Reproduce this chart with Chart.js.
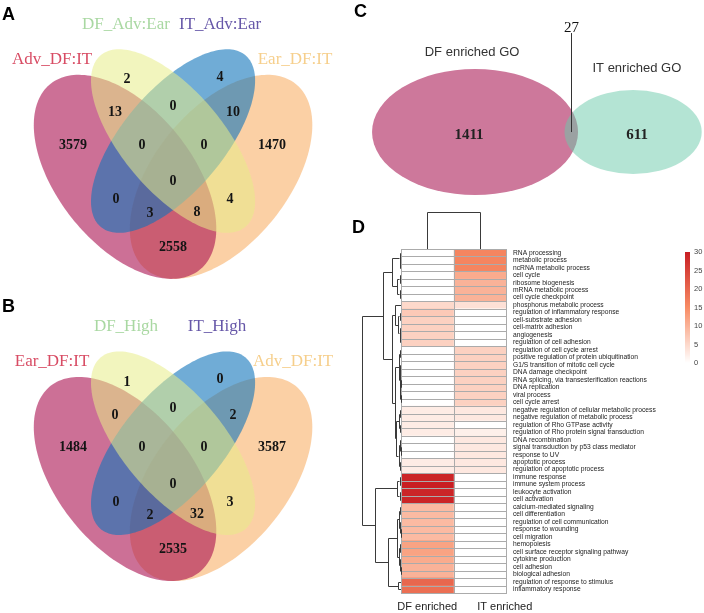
<!DOCTYPE html>
<html>
<head>
<meta charset="utf-8">
<script src="https://cdn.jsdelivr.net/npm/chart.js@4.4.0/dist/chart.umd.min.js"></script>
<style>
  body { margin: 0; background: #fff; width: 704px; height: 613px; position: relative; overflow: hidden; }
  canvas { position: absolute; display: block; }
  .tag { position: absolute; font: bold 18px/18px "Liberation Sans", Arial, sans-serif; color: #000; }
</style>
</head>
<body>
<canvas id="vennA" width="352" height="300" style="left:0;top:0"></canvas>
<canvas id="vennB" width="352" height="313" style="left:0;top:300px"></canvas>
<canvas id="vennC" width="352" height="200" style="left:352px;top:0"></canvas>
<canvas id="heat" width="352" height="413" style="left:352px;top:200px"></canvas>
<div class="tag" style="left:2px;top:5px">A</div>
<div class="tag" style="left:2px;top:297px">B</div>
<div class="tag" style="left:354px;top:2px">C</div>
<div class="tag" style="left:352px;top:218px">D</div>
<script>
// Venn A / B: set names and region counts
const setsA = ['Adv_DF:IT', 'DF_Adv:Ear', 'IT_Adv:Ear', 'Ear_DF:IT'];
const countsA = [2, 4, 13, 0, 10, 3579, 0, 0, 1470, 0, 0, 3, 8, 4, 2558];
const setsB = ['Ear_DF:IT', 'DF_High', 'IT_High', 'Adv_DF:IT'];
const countsB = [1, 0, 0, 0, 2, 1484, 0, 0, 3587, 0, 0, 2, 32, 3, 2535];

// Venn C: enriched GO terms
const goSets = ['DF enriched GO', 'IT enriched GO'];
const goOnly = [1411, 611];
const goShared = 27;

// heatmap D
const goTerms = [
  'RNA processing', 'metabolic process', 'ncRNA metabolic process', 'cell cycle',
  'ribosome biogenesis', 'mRNA metabolic process', 'cell cycle checkpoint',
  'phosphorus metabolic process', 'regulation of inflammatory response',
  'cell-substrate adhesion', 'cell-matrix adhesion', 'angiogenesis',
  'regulation of cell adhesion', 'regulation of cell cycle arrest',
  'positive regulation of protein ubiquitination', 'G1/S transition of mitotic cell cycle',
  'DNA damage checkpoint', 'RNA splicing, via transesterification reactions',
  'DNA replication', 'viral process', 'cell cycle arrest',
  'negative regulation of cellular metabolic process', 'negative regulation of metabolic process',
  'regulation of Rho GTPase activity', 'regulation of Rho protein signal transduction',
  'DNA recombination', 'signal transduction by p53 class mediator', 'response to UV',
  'apoptotic process', 'regulation of apoptotic process', 'immune response',
  'immune system process', 'leukocyte activation', 'cell activation',
  'calcium-mediated signaling', 'cell differentiation', 'regulation of cell communication',
  'response to wounding', 'cell migration', 'hemopoiesis',
  'cell surface receptor signaling pathway', 'cytokine production', 'cell adhesion',
  'biological adhesion', 'regulation of response to stimulus', 'inflammatory response'
];
const heatColumns = ['DF enriched', 'IT enriched'];
const dfScore = [0, 0, 0, 0, 0, 0, 0, 5, 7, 6, 6, 6, 6, 0, 0, 0, 0, 0, 0, 0, 0,
  2.5, 2.5, 2.5, 2.5, 0, 0, 0, 2.5, 2.5, 29, 30, 29, 29, 9, 9, 9, 9, 9,
  12, 12, 11, 10, 10, 20, 19];
const itScore = [16, 16, 16, 11, 10, 10, 10, 4, 0, 0, 0, 0, 0, 6, 6, 6, 6, 6, 6, 6, 6,
  3, 3, 0, 2, 3, 3, 3, 3, 3, 0, 0, 0, 0, 0, 0, 0, 0, 0, 0, 0, 0, 0, 0, 0, 0];
const colorbarTicks = [0, 5, 10, 15, 20, 25, 30];

// clustering trees: [height, left, right], leaves are row / column indexes
const rowTree = [39,
  [18,
    [9, [1.5, 0, [0.8, 1, 2]], [4, [1.5, 3, 4], [1.5, 5, 6]]],
    [9,
      [6, 7, [3, [1.5, 8, 9], [1.5, 10, [0.8, 11, 12]]]],
      [6,
        [2, [1, 13, 14], [1.2, [0.6, 15, 16], [0.6, [0.3, 17, 18], [0.3, 19, 20]]]],
        [5, [2, [1, 21, 22], [1, 23, 24]], [2.5, [1, 25, [0.5, 26, 27]], [1, 28, 29]]]]]],
  [26,
    [4, [1.5, 30, 31], [1.5, 32, 33]],
    [13,
      [4, [2, [1, 34, 35], [1, 36, [0.5, 37, 38]]], [2, [1, 39, 40], [1, 41, [0.5, 42, 43]]]],
      [3, 44, 45]]]];
const colTree = [37, 0, 1];

// ---- layout / style ----
// four-ellipse shapes in unit space: cx, cy, a, b, rotation(deg)
const quadShapes = [
  [0.35, 0.47, 0.35, 0.20, 135],
  [0.50, 0.57, 0.33, 0.15, 135],
  [0.50, 0.57, 0.33, 0.15, 45],
  [0.65, 0.47, 0.35, 0.20, 45]
];
const quadFills = ['rgba(170,17,80,0.6)', 'rgba(231,237,137,0.55)', 'rgba(17,117,187,0.6)', 'rgba(247,161,75,0.5)'];
const quadOrder = [3, 0, 2, 1];
const setInk = ['#d84c64', '#a9d8a2', '#6657a8', '#f6cf8c'];
const regionSpots = [
  [0.356, 0.741], [0.647, 0.747], [0.319, 0.649], [0.5, 0.668], [0.6875, 0.649],
  [0.1875, 0.559], [0.403, 0.559], [0.597, 0.559], [0.809, 0.559], [0.5, 0.456],
  [0.322, 0.406], [0.428, 0.369], [0.575, 0.372], [0.678, 0.406], [0.5, 0.274]
];
const titleSpotsA = [[0.122, 0.797], [0.353, 0.895], [0.647, 0.895], [0.881, 0.797]];
const titleSpotsB = [[0.122, 0.797], [0.353, 0.895], [0.6375, 0.895], [0.875, 0.797]];

function ellipsePath(ctx, sx, sy, e) {
  const [cx, cy, a, b, rot] = e;
  const r = rot * Math.PI / 180;
  ctx.beginPath();
  for (let k = 0; k <= 180; k++) {
    const t = k / 180 * 2 * Math.PI;
    const u = a * Math.cos(t), v = b * Math.sin(t);
    const px = sx.getPixelForValue(cx + u * Math.cos(r) - v * Math.sin(r));
    const py = sy.getPixelForValue(cy + u * Math.sin(r) + v * Math.cos(r));
    if (k === 0) ctx.moveTo(px, py); else ctx.lineTo(px, py);
  }
  ctx.closePath();
}

function vennPlugin(sets, counts, titles) {
  return {
    id: 'quadVenn',
    beforeDatasetsDraw(chart) {
      const { ctx, scales: { x, y } } = chart;
      ctx.save();
      quadOrder.forEach(i => {
        ellipsePath(ctx, x, y, quadShapes[i]);
        ctx.fillStyle = quadFills[i];
        ctx.fill();
      });
      ctx.restore();
    },
    afterDatasetsDraw(chart) {
      const { ctx, scales: { x, y } } = chart;
      const pts = chart.getDatasetMeta(0).data;
      ctx.save();
      ctx.textAlign = 'center';
      ctx.textBaseline = 'middle';
      ctx.font = 'bold 14px "Liberation Serif", serif';
      ctx.fillStyle = '#141414';
      pts.forEach((p, i) => ctx.fillText(String(counts[i]), p.x, p.y));
      ctx.font = '17px "Liberation Serif", serif';
      sets.forEach((s, i) => {
        ctx.fillStyle = setInk[i];
        ctx.fillText(s, x.getPixelForValue(titles[i][0]), y.getPixelForValue(titles[i][1]));
      });
      ctx.restore();
    }
  };
}

function makeVenn(id, sets, counts, titles, yMin, yMax) {
  return new Chart(document.getElementById(id), {
    type: 'scatter',
    data: { datasets: [{ data: regionSpots.map(p => ({ x: p[0], y: p[1] })), pointRadius: 0 }] },
    options: {
      responsive: false, animation: false, events: [],
      layout: { padding: 0 },
      plugins: { legend: { display: false }, tooltip: { enabled: false } },
      scales: {
        x: { type: 'linear', display: false, min: -0.0406, max: 1.059 },
        y: { type: 'linear', display: false, min: yMin, max: yMax }
      }
    },
    plugins: [vennPlugin(sets, counts, titles)]
  });
}

makeVenn('vennA', setsA, countsA, titleSpotsA, 0.126, 0.964);
makeVenn('vennB', setsB, countsB, titleSpotsB, 0.0957, 0.97);

// ---- panel C: two area-proportional sets ----
const goRadius = goOnly.map(v => Math.sqrt(v + goShared));
const goCentres = [[45.3, 40.9], [103.5, 40.9]];
const goFills = ['rgb(205,120,155)', 'rgba(105,201,169,0.5)'];
const goNameSpots = [[44.2, 89.1], [104.9, 79.5]];

new Chart(document.getElementById('vennC'), {
  type: 'scatter',
  data: { datasets: [{ data: goCentres.map(c => ({ x: c[0], y: c[1] })), pointRadius: 0 }] },
  options: {
    responsive: false, animation: false, events: [],
    layout: { padding: 0 },
    plugins: { legend: { display: false }, tooltip: { enabled: false } },
    scales: {
      x: { type: 'linear', display: false, min: 0, max: 129.6 },
      y: { type: 'linear', display: false, min: 0, max: 120.4 }
    }
  },
  plugins: [{
    id: 'twoVenn',
    beforeDatasetsDraw(chart) {
      const { ctx, scales: { x, y } } = chart;
      ctx.save();
      goCentres.forEach((c, i) => {
        const px = x.getPixelForValue(c[0]), py = y.getPixelForValue(c[1]);
        const rx = x.getPixelForValue(c[0] + goRadius[i]) - px;
        const ry = py - y.getPixelForValue(c[1] + goRadius[i]);
        ctx.beginPath();
        ctx.ellipse(px, py, rx, ry, 0, 0, Math.PI * 2);
        ctx.fillStyle = goFills[i];
        ctx.fill();
      });
      ctx.restore();
    },
    afterDatasetsDraw(chart) {
      const { ctx, scales: { x, y } } = chart;
      const pts = chart.getDatasetMeta(0).data;
      ctx.save();
      ctx.textAlign = 'center';
      ctx.textBaseline = 'middle';
      ctx.font = 'bold 15px "Liberation Serif", serif';
      ctx.fillStyle = '#222';
      pts.forEach((p, i) => ctx.fillText(String(goOnly[i]), p.x - (i ? -4 : 6), p.y + 3));
      ctx.font = '13px "Liberation Sans", Arial, sans-serif';
      ctx.fillStyle = '#333';
      goSets.forEach((s, i) => ctx.fillText(s, x.getPixelForValue(goNameSpots[i][0]), y.getPixelForValue(goNameSpots[i][1])));
      // shared count with pointer into the lens
      const lensX = (goCentres[0][0] + goRadius[0] + goCentres[1][0] - goRadius[1]) / 2;
      const lx = Math.round(x.getPixelForValue(lensX)) + 0.5;
      ctx.strokeStyle = '#333';
      ctx.lineWidth = 1;
      ctx.beginPath();
      ctx.moveTo(lx, y.getPixelForValue(goCentres[0][1]));
      ctx.lineTo(lx, y.getPixelForValue(100.5));
      ctx.stroke();
      ctx.font = '15px "Liberation Serif", serif';
      ctx.fillStyle = '#111';
      ctx.fillText(String(goShared), lx, y.getPixelForValue(103.5));
      ctx.restore();
    }
  }]
});

// ---- panel D: heatmap ----
const rampStops = [[0, [255, 255, 255]], [15, [248, 140, 100]], [30, [200, 30, 35]]];
function heatColor(v) {
  for (let i = 1; i < rampStops.length; i++) {
    const [v1, c1] = rampStops[i];
    const [v0, c0] = rampStops[i - 1];
    if (v <= v1 || i === rampStops.length - 1) {
      const t = Math.max(0, Math.min(1, (v - v0) / (v1 - v0)));
      const c = c0.map((k, j) => Math.round(k + (c1[j] - k) * t));
      return `rgb(${c[0]},${c[1]},${c[2]})`;
    }
  }
}

function drawTree(ctx, node, toX, toY) {
  // returns [x, y] of node
  if (typeof node === 'number') return [toX(0), toY(node)];
  const [h, l, r] = node;
  const a = drawTree(ctx, l, toX, toY);
  const b = drawTree(ctx, r, toX, toY);
  return [toX(h), (a[1] + b[1]) / 2, a, b];
}

function strokeTree(ctx, node, toX, toY, vertical) {
  if (typeof node === 'number') return vertical ? [toY(node), toX(0)] : [toX(0), toY(node)];
  const [h, l, r] = node;
  const a = strokeTree(ctx, l, toX, toY, vertical);
  const b = strokeTree(ctx, r, toX, toY, vertical);
  const d = toX(h);
  const crisp = v => Math.round(v) + 0.5;
  ctx.beginPath();
  if (vertical) {
    // column tree: a/b are [xpos, depth]
    ctx.moveTo(crisp(a[0]), a[1]);
    ctx.lineTo(crisp(a[0]), crisp(d));
    ctx.lineTo(crisp(b[0]), crisp(d));
    ctx.lineTo(crisp(b[0]), b[1]);
    ctx.stroke();
    return [(a[0] + b[0]) / 2, d];
  }
  ctx.moveTo(a[0], crisp(a[1]));
  ctx.lineTo(crisp(d), crisp(a[1]));
  ctx.lineTo(crisp(d), crisp(b[1]));
  ctx.lineTo(b[0], crisp(b[1]));
  ctx.stroke();
  return [d, (a[1] + b[1]) / 2];
}

new Chart(document.getElementById('heat'), {
  type: 'bar',
  data: {
    labels: goTerms,
    datasets: [
      { label: heatColumns[0], data: goTerms.map(() => [0, 1]), backgroundColor: dfScore.map(heatColor) },
      { label: heatColumns[1], data: goTerms.map(() => [1, 2]), backgroundColor: itScore.map(heatColor) }
    ]
  },
  options: {
    responsive: false, animation: false, events: [],
    indexAxis: 'y',
    layout: { padding: { left: 49, top: 49, bottom: 20, right: 0 } },
    datasets: { bar: { grouped: false, barPercentage: 1, categoryPercentage: 1, borderWidth: 0 } },
    plugins: { legend: { display: false }, tooltip: { enabled: false } },
    scales: {
      x: { type: 'linear', display: false, min: 0, max: 2 },
      y: {
        position: 'right',
        grid: { display: false, drawTicks: false },
        border: { display: false },
        ticks: { autoSkip: false, padding: 7, color: '#222', font: { family: 'Liberation Sans', size: 6.7 } },
        afterFit(s) { s.width = 198; }
      }
    }
  },
  plugins: [{
    id: 'heatExtras',
    afterDatasetsDraw(chart) {
      const { ctx, chartArea, scales: { x, y } } = chart;
      ctx.save();
      // cell borders
      ctx.strokeStyle = '#ababab';
      ctx.lineWidth = 1;
      chart.data.datasets.forEach((ds, di) => {
        chart.getDatasetMeta(di).data.forEach(bar => {
          const x0 = Math.round(bar.base) + 0.5, x1 = Math.round(bar.x) + 0.5;
          const y0 = Math.round(bar.y - bar.height / 2) + 0.5, y1 = Math.round(bar.y + bar.height / 2) + 0.5;
          ctx.strokeRect(x0, y0, x1 - x0, y1 - y0);
        });
      });
      // dendrograms
      ctx.strokeStyle = '#3a3a3a';
      strokeTree(ctx, rowTree, h => chartArea.left - h, i => y.getPixelForValue(i), false);
      strokeTree(ctx, colTree, h => chartArea.top - h, i => x.getPixelForValue(i + 0.5), true);
      // column labels
      ctx.fillStyle = '#222';
      ctx.font = '11px "Liberation Sans", Arial, sans-serif';
      ctx.textAlign = 'center';
      ctx.textBaseline = 'middle';
      const shift = [0, 25];
      heatColumns.forEach((c, i) => ctx.fillText(c, x.getPixelForValue(i + 0.5) + shift[i], chartArea.bottom + 14));
      // colour key
      const kx = 333, kTop = 52, kBot = 163, kMax = colorbarTicks[colorbarTicks.length - 1];
      for (let py = kTop; py < kBot; py++) {
        ctx.fillStyle = heatColor((kBot - py - 0.5) / (kBot - kTop) * kMax);
        ctx.fillRect(kx, py, 5, 1);
      }
      ctx.fillStyle = '#444';
      ctx.font = '7.5px "Liberation Sans", Arial, sans-serif';
      ctx.textAlign = 'left';
      colorbarTicks.forEach(t => ctx.fillText(String(t), kx + 9, kBot - t / kMax * (kBot - kTop)));
      ctx.restore();
    }
  }]
});
</script>
</body>
</html>
